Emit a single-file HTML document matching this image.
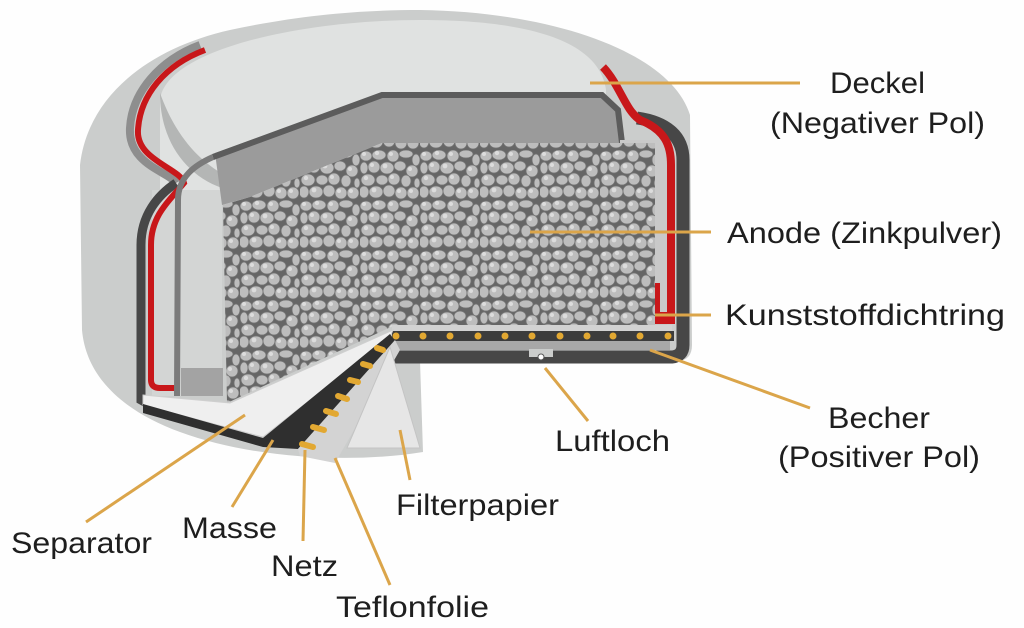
<!DOCTYPE html>
<html><head><meta charset="utf-8"><style>
html,body{margin:0;padding:0;background:#fefefe;}
svg{display:block;}
text{font-family:"Liberation Sans",sans-serif;font-size:30px;fill:#1e1e1e;}
</style></head><body>
<svg width="1024" height="628" viewBox="0 0 1024 628" xmlns="http://www.w3.org/2000/svg">
<defs>
<pattern id="grav" width="60" height="50" patternUnits="userSpaceOnUse">
<rect width="60" height="50" fill="#666"/>
<g fill="#bdbdbd" stroke="#727272" stroke-width="0.8">
<ellipse cx="6" cy="6" rx="6" ry="5"/><ellipse cx="19" cy="5" rx="7" ry="5"/><ellipse cx="33" cy="6" rx="6" ry="6"/><ellipse cx="46" cy="4" rx="7" ry="4"/><ellipse cx="56" cy="10" rx="4" ry="6"/>
<ellipse cx="4" cy="18" rx="4" ry="6"/><ellipse cx="14" cy="17" rx="6" ry="6"/><ellipse cx="27" cy="18" rx="7" ry="6"/><ellipse cx="40" cy="16" rx="6" ry="5"/><ellipse cx="52" cy="21" rx="6" ry="6"/>
<ellipse cx="8" cy="30" rx="7" ry="6"/><ellipse cx="22" cy="30" rx="6" ry="5"/><ellipse cx="34" cy="29" rx="6" ry="6"/><ellipse cx="46" cy="31" rx="5" ry="6"/><ellipse cx="57" cy="33" rx="3" ry="5"/>
<ellipse cx="4" cy="42" rx="5" ry="6"/><ellipse cx="16" cy="42" rx="7" ry="6"/><ellipse cx="29" cy="41" rx="6" ry="6"/><ellipse cx="41" cy="43" rx="6" ry="6"/><ellipse cx="53" cy="43" rx="6" ry="6"/>
</g>
<g fill="#dcdcdc"><circle cx="4" cy="4" r="2"/><circle cx="17" cy="3" r="2.2"/><circle cx="31" cy="4" r="2"/><circle cx="12" cy="15" r="2"/><circle cx="25" cy="16" r="2.4"/><circle cx="50" cy="19" r="2"/><circle cx="6" cy="28" r="2.2"/><circle cx="32" cy="27" r="2"/><circle cx="14" cy="40" r="2.4"/><circle cx="39" cy="41" r="2"/><circle cx="51" cy="41" r="2"/></g>
</pattern>
</defs>

<path d="M82,330 L80,165 C88,95 150,48 230,30 C300,15 360,10 420,10 C560,12 672,55 690,115 L692,345 Q692,360 678,361 L420,361 L423,452 C350,464 250,458 180,432 C120,410 86,375 82,330 Z" fill="#cbcdcc"/>
<path d="M160,100 C165,50 300,20 420,20 C540,20 600,45 606,90 L606,200 L160,200 Z" fill="#e0e2e1"/>
<path d="M160,93 C160,140 185,175 222,188 L235,180 C200,165 175,135 160,93 Z" fill="#b4b6b5"/>

<path d="M200,45 C160,60 132,92 130,128 C128,165 170,172 176,183" fill="none" stroke="#8e8e8e" stroke-width="8"/>
<path d="M152,190 L222,190 L222,396 L152,396 Z" fill="#d3d5d4"/>
<path d="M176,183 C158,195 141,215 141,245 L141,400 L152,406" fill="none" stroke="#474747" stroke-width="9"/>
<path d="M205,50 C165,65 140,95 138,130 C136,160 180,168 184,183 C170,200 151,215 151,245 L151,380 Q151,388 160,388 L176,388" fill="none" stroke="#c8171a" stroke-width="6"/>
<path d="M213,157 C195,165 178,177 178,200 L177,396" fill="none" stroke="#7b7b7b" stroke-width="6"/>
<rect x="181" y="368" width="42" height="28" fill="#a3a3a3"/>

<path d="M215,153 L382,93 L602,93 L620,110 L625,143 L382,143 L250,197 L222,205 Z" fill="#9b9b9b"/>
<path d="M213,157 L382,95 L602,95 L618,110 L622,143" fill="none" stroke="#5c5c5c" stroke-width="6"/>

<rect x="620" y="140" width="47" height="190" fill="#c9c9c9"/>
<path d="M637,118 C665,122 683,135 683,160 L683,345 Q683,356 672,357 L392,357" fill="none" stroke="#474747" stroke-width="13"/>
<path d="M603,67 C620,85 625,110 640,120 C665,130 671,145 671,165 L671,320" fill="none" stroke="#c8171a" stroke-width="8"/>
<path d="M647,283 L660,283 L660,312 L675,312 L675,324 L647,324 Z" fill="#c8171a"/>

<path d="M223,205 L250,197 L382,143 L655,143 L655,326 L393,326 L227,403 Z" fill="url(#grav)"/>

<rect x="392" y="325" width="280" height="6" fill="#d2d2d2"/>
<rect x="392" y="331" width="282" height="10" fill="#3c3c3c"/>
<g fill="#e2a832">
<circle cx="396" cy="336" r="3.5"/><circle cx="423" cy="336" r="3.5"/><circle cx="450" cy="336" r="3.5"/><circle cx="478" cy="336" r="3.5"/><circle cx="505" cy="336" r="3.5"/><circle cx="532" cy="336" r="3.5"/><circle cx="560" cy="336" r="3.5"/><circle cx="587" cy="336" r="3.5"/><circle cx="613" cy="336" r="3.5"/><circle cx="640" cy="336" r="3.5"/><circle cx="668" cy="336" r="3.5"/>
</g>
<rect x="392" y="341" width="278" height="9" fill="#a8a8a8"/>
<rect x="529" y="349" width="24" height="8" fill="#cbcdcc"/>
<circle cx="541" cy="357" r="3" fill="#fff" stroke="#555" stroke-width="1"/>

<path d="M143,395 L230,403 L393,330 L390,337 L263,437 L143,405 Z" fill="#efefef" stroke="#cfcfcf" stroke-width="1"/>
<path d="M143,404 L263,438 L390,334 L395,341 L298,449 L263,447 L143,413 Z" fill="#2f2f2f"/>
<path d="M298,449 L395,340 L400,350 L335,463 L300,456 Z" fill="#d3d3d3"/>
<path d="M390,347 L420,448 L347,448 Z" fill="#e6e6e6" stroke="#c4c4c4" stroke-width="1"/>
<g stroke="#e2a832" stroke-width="6" stroke-linecap="round">
<line x1="302" y1="444" x2="313" y2="447"/><line x1="313" y1="427" x2="324" y2="430"/><line x1="326" y1="411" x2="336" y2="414"/><line x1="338" y1="396" x2="347" y2="399"/><line x1="350" y1="380" x2="358" y2="382"/><line x1="363" y1="364" x2="370" y2="366"/><line x1="377" y1="348" x2="383" y2="350"/>
</g>

<g stroke="#dba54a" stroke-width="3" fill="none">
<line x1="590" y1="83" x2="800" y2="83"/>
<line x1="530" y1="232" x2="711" y2="232"/>
<line x1="655" y1="315" x2="711" y2="315"/>
<line x1="650" y1="350" x2="810" y2="408"/>
<line x1="545" y1="368" x2="588" y2="421"/>
<line x1="400" y1="430" x2="410" y2="480"/>
<line x1="335" y1="458" x2="390" y2="585"/>
<line x1="305" y1="450" x2="303" y2="541"/>
<line x1="273" y1="440" x2="232" y2="507"/>
<line x1="245" y1="415" x2="86" y2="522"/>
</g>

<g>
<text x="830" y="93" textLength="95" lengthAdjust="spacingAndGlyphs">Deckel</text>
<text x="770" y="133" textLength="215" lengthAdjust="spacingAndGlyphs">(Negativer Pol)</text>
<text x="727" y="243" textLength="275" lengthAdjust="spacingAndGlyphs">Anode (Zinkpulver)</text>
<text x="725" y="325" textLength="280" lengthAdjust="spacingAndGlyphs">Kunststoffdichtring</text>
<text x="828" y="428" textLength="102" lengthAdjust="spacingAndGlyphs">Becher</text>
<text x="778" y="467" textLength="202" lengthAdjust="spacingAndGlyphs">(Positiver Pol)</text>
<text x="555" y="451" textLength="115" lengthAdjust="spacingAndGlyphs">Luftloch</text>
<text x="396" y="515" textLength="163" lengthAdjust="spacingAndGlyphs">Filterpapier</text>
<text x="11" y="553" textLength="141" lengthAdjust="spacingAndGlyphs">Separator</text>
<text x="182" y="538" textLength="95" lengthAdjust="spacingAndGlyphs">Masse</text>
<text x="271" y="576" textLength="67" lengthAdjust="spacingAndGlyphs">Netz</text>
<text x="336" y="617" textLength="153" lengthAdjust="spacingAndGlyphs">Teflonfolie</text>
</g>
</svg>
</body></html>
